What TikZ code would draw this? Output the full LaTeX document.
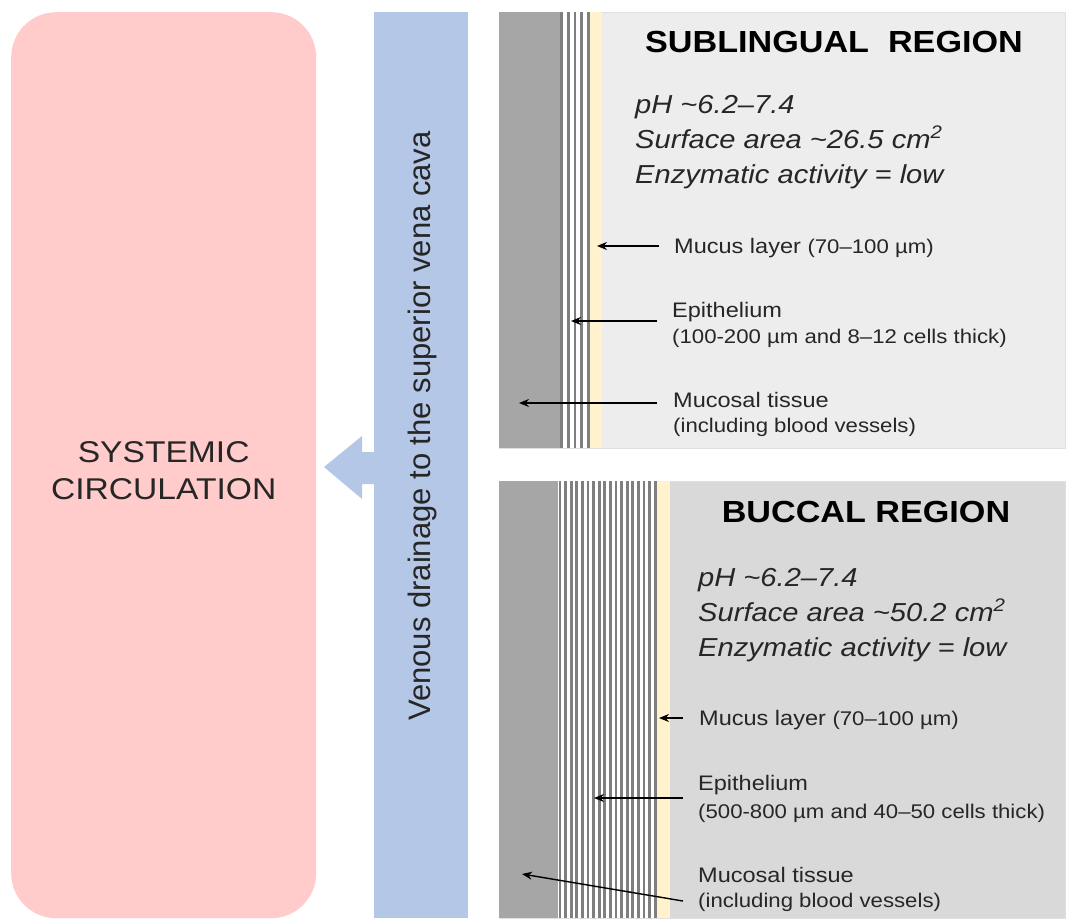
\documentclass[tikz,border=0pt]{standalone}
\usepackage{fontspec}
\setmainfont{Liberation Sans}[FakeStretch=1.12]
\newfontfamily\veinfont{Liberation Sans}
\usepackage{tikz}
\usetikzlibrary{arrows.meta}
\definecolor{sysPink}{HTML}{FFCBCB}
\definecolor{veinBlue}{HTML}{B4C7E7}
\definecolor{tissueGray}{HTML}{A6A6A6}
\definecolor{cellLine}{HTML}{7F7F7F}
\definecolor{mucusYellow}{HTML}{FFF2CC}
\definecolor{subBack}{HTML}{EDEDED}
\definecolor{bucBack}{HTML}{D9D9D9}
\definecolor{textDark}{HTML}{262626}
\tikzset{
  pointer/.style={-{Stealth[length=10pt,width=8pt]}, line width=1.4pt, draw=black},
  region panel/.style={draw=black!12, anchor=north west, inner sep=0pt,
    minimum width=566pt},
  region title/.style={font=\fontsize{30.5}{35}\selectfont\bfseries, text=black,
    inner sep=0pt},
  fact/.style={font=\fontsize{26}{30}\selectfont\itshape, text=textDark,
    anchor=base west, inner sep=0pt},
  layer name/.style={font=\fontsize{21}{25}\selectfont, text=textDark,
    anchor=base west, inner sep=0pt},
  layer note/.style={font=\fontsize{19.8}{23}\selectfont, text=textDark,
    anchor=base west, inner sep=0pt},
  cell line/.style={draw=cellLine, line width=2.8pt}
}

\begin{document}
\begin{tikzpicture}[x=1pt,y=-1pt]
  \useasboundingbox (0,0) rectangle (1067,918);
  % systemic circulation and venous drainage
  \node[fill=sysPink, rounded corners=45pt, anchor=north west,
    minimum width=305pt, minimum height=906pt] (sys) at (11,12) {};
  \node[align=center, font=\fontsize{30}{37}\selectfont, text=textDark]
    (sysText) at ([yshift=-5pt]sys.center) {SYSTEMIC\\CIRCULATION};
  \node[fill=veinBlue, anchor=north west, inner sep=0pt,
    minimum width=94pt, minimum height=906pt] (vein) at (374,12) {};
  \node[rotate=90, font=\veinfont\fontsize{31}{35}\selectfont,
    text=textDark] (veinText) at (422,426)
    {Venous drainage to the superior vena cava};
  \fill[veinBlue] (375,452) -- (362,452) -- (362,436) -- (324,467)
    -- (362,499) -- (362,484) -- (375,484) -- cycle;

  % sublingual region
  \node[region panel, fill=subBack, minimum height=436pt] (subPanel) at (499,12) {};
  \fill[tissueGray] (499,12) rectangle (560,448);
  \fill[white] (560,12) rectangle (590,448);
  \foreach \x in {561.5,568.25,...,589}
    \draw[cell line] (\x,12) -- (\x,448);
  \fill[mucusYellow] (590,12) rectangle (602,448);
  \node[region title] (subTitle) at (834,42) {SUBLINGUAL\ \ REGION};
  \node[fact] (subPh) at (635,113) {pH \textasciitilde6.2–7.4};
  \node[fact] (subArea) at (635,148) {Surface area \textasciitilde26.5 cm\textsuperscript{2}};
  \node[fact] (subEnz) at (635,183) {Enzymatic activity = low};
  \node[layer name] (subMucus) at (674,253)
    {Mucus layer {\fontsize{19.8}{23}\selectfont (70–100 µm)}};
  \node[layer name] (subEpi) at (672,317) {Epithelium};
  \node[layer note] (subEpiNote) at (672,343) {(100-200 µm and 8–12 cells thick)};
  \node[layer name] (subTissue) at (673,407) {Mucosal tissue};
  \node[layer note] (subTissueNote) at (673,432) {(including blood vessels)};
  \coordinate (subMucusTail) at (659,246);
  \coordinate (subMucusTip) at (597,246);
  \coordinate (subEpiTail) at (657,321);
  \coordinate (subEpiTip) at (571,321);
  \coordinate (subTissueTail) at (657,403);
  \coordinate (subTissueTip) at (519,403);
  \draw[pointer] (subMucusTail) -- (subMucusTip);
  \draw[pointer] (subEpiTail) -- (subEpiTip);
  \draw[pointer] (subTissueTail) -- (subTissueTip);

  % buccal region
  \node[region panel, fill=bucBack, minimum height=437pt] (bucPanel) at (499,481) {};
  \fill[tissueGray] (499,481) rectangle (558,918);
  \fill[white] (558,481) rectangle (657,918);
  \foreach \x in {560,565.6,...,656}
    \draw[cell line] (\x,481) -- (\x,918);
  \fill[mucusYellow] (657,481) rectangle (670,918);
  \node[region title] (bucTitle) at (866,512) {BUCCAL REGION};
  \node[fact] (bucPh) at (698,586) {pH \textasciitilde6.2–7.4};
  \node[fact] (bucArea) at (698,621) {Surface area \textasciitilde50.2 cm\textsuperscript{2}};
  \node[fact] (bucEnz) at (698,656) {Enzymatic activity = low};
  \node[layer name] (bucMucus) at (699,725)
    {Mucus layer {\fontsize{19.8}{23}\selectfont (70–100 µm)}};
  \node[layer name] (bucEpi) at (698,790) {Epithelium};
  \node[layer note] (bucEpiNote) at (698,818) {(500-800 µm and 40–50 cells thick)};
  \node[layer name] (bucTissue) at (698,882) {Mucosal tissue};
  \node[layer note] (bucTissueNote) at (698,907) {(including blood vessels)};
  \coordinate (bucMucusTail) at (683,718);
  \coordinate (bucMucusTip) at (659,718);
  \coordinate (bucEpiTail) at (683,798);
  \coordinate (bucEpiTip) at (594,798);
  \coordinate (bucTissueTail) at (683,901);
  \coordinate (bucTissueTip) at (522,874);
  \draw[pointer] (bucMucusTail) -- (bucMucusTip);
  \draw[pointer] (bucEpiTail) -- (bucEpiTip);
  \draw[pointer] (bucTissueTail) -- (bucTissueTip);
\end{tikzpicture}
\end{document}
